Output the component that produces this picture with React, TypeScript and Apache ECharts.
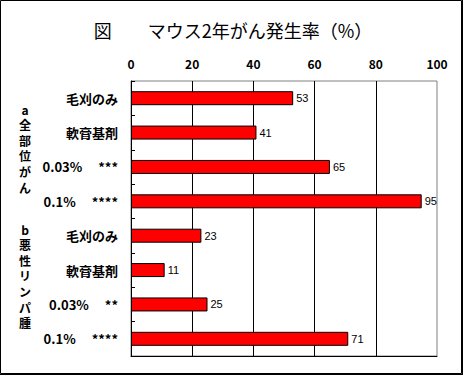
import React, { useEffect, useRef } from "react";
import * as echarts from "echarts";

const categories = [
  "毛刈のみ",
  "軟膏基剤",
  "0.03%　 ***",
  "0.1%　 ****",
  "毛刈のみ",
  "軟膏基剤",
  "0.03%　 **",
  "0.1%　 ****",
];
const values = [53, 41, 65, 95, 23, 11, 25, 71];
const xTicks = [0, 20, 40, 60, 80, 100];
const groupA = ["a", "全", "部", "位", "が", "ん"];
const groupB = ["b", "悪", "性", "リ", "ン", "パ", "腫"];
const titleText = "図　　マウス2年がん発生率（%）";

const FONT = '"Noto Sans CJK JP", "Noto Sans", sans-serif';

export default function App() {
  const ref = useRef<HTMLDivElement>(null);
  useEffect(() => {
    if (!ref.current) return;
    const chart = echarts.init(ref.current, null, { renderer: "svg" });
    const groupText = (chars: string[], x: number, y0: number) =>
      chars.map((c, i) => ({
        type: "text",
        x,
        y: y0 + i * 15.6,
        style: {
          text: c,
          fontSize: 12,
          lineHeight: 14,
          fontWeight: "bold",
          fontFamily: FONT,
          fill: "#000",
          align: "center",
          verticalAlign: "middle",
        },
      }));
    chart.setOption({
      animation: false,
      backgroundColor: "#fff",
      title: {
        text: titleText,
        left: 228,
        top: 16,
        textAlign: "center",
        textStyle: {
          fontSize: 18,
          fontWeight: "normal",
          fontFamily: FONT,
          color: "#000",
        },
      },
      grid: {
        left: 131,
        right: 27,
        top: 81,
        bottom: 20,
        show: true,
        borderColor: "#808080",
        borderWidth: 1,
        backgroundColor: "transparent",
      },
      xAxis: [
        {
          type: "value",
          position: "top",
          min: 0,
          max: 100,
          interval: 20,
          axisLine: { show: false },
          axisTick: { show: false },
          axisLabel: {
            margin: 12,
            fontSize: 12,
            fontWeight: "bold",
            fontFamily: FONT,
            color: "#000",
            formatter: (v: number) => (xTicks.includes(v) ? String(v) : ""),
          },
          splitLine: {
            show: true,
            showMinLine: false,
            showMaxLine: false,
            lineStyle: { color: "#000", width: 1 },
          },
        },
        {
          type: "value",
          position: "bottom",
          min: 0,
          max: 100,
          interval: 20,
          axisLine: { show: true, onZero: false, lineStyle: { color: "#000", width: 1 } },
          axisTick: { show: false },
          axisLabel: { show: false },
          splitLine: { show: false },
        },
      ],
      yAxis: {
        type: "category",
        inverse: true,
        data: categories,
        axisLine: { show: true, lineStyle: { color: "#000", width: 1 } },
        axisTick: {
          show: true,
          inside: true,
          length: 4,
          lineStyle: { color: "#000" },
        },
        axisLabel: {
          margin: 13,
          fontSize: 13,
          fontWeight: "bold",
          fontFamily: FONT,
          color: "#000",
        },
      },
      series: [
        {
          type: "bar",
          xAxisIndex: 0,
          data: values,
          barWidth: 14,
          itemStyle: { color: "#ff0000", borderColor: "#000", borderWidth: 1 },
          label: {
            show: true,
            position: "right",
            distance: 3,
            fontSize: 11,
            fontFamily: '"Liberation Sans", Arial, sans-serif',
            color: "#000",
          },
        },
      ],
      graphic: [
        {
          type: "rect",
          shape: { x: 0.5, y: 0.5, width: 461, height: 373 },
          style: { fill: "none", stroke: "#000", lineWidth: 1 },
          silent: true,
        },
        {
          type: "line",
          shape: { x1: 462.5, y1: 0, x2: 462.5, y2: 375 },
          style: { stroke: "#000", lineWidth: 1 },
          silent: true,
        },
        {
          type: "line",
          shape: { x1: 0, y1: 374.5, x2: 463, y2: 374.5 },
          style: { stroke: "#000", lineWidth: 1 },
          silent: true,
        },
        ...groupText(groupA, 25, 109),
        ...groupText(groupB, 25, 229),
      ],
    });
    return () => chart.dispose();
  }, []);
  return (
    <div
      ref={ref}
      style={{ position: "absolute", left: 0, top: 0, width: 464, height: 376 }}
    />
  );
}
